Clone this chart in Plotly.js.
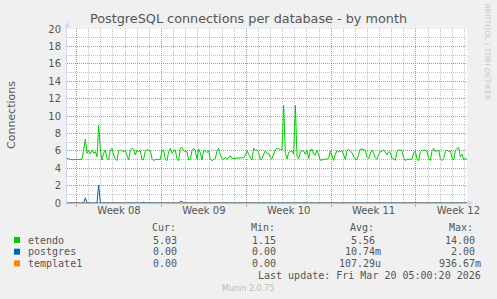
<!DOCTYPE html>
<html><head><meta charset="utf-8">
<script src="https://cdn.plot.ly/plotly-3.0.1.min.js"></script>
<style>html,body{margin:0;padding:0;background:#F0F0F0;}#chart{width:497px;height:299px;}</style>
</head><body><div id="chart"></div>
<script>
// ---- data ----
const seriesStart = '2026-02-15T05:00:20Z';
const seriesEnd = '2026-03-20T05:00:20Z';
const stepSeconds = 11880; // 33 days / 240 samples
const etendo = [5.15,5.05,5.0,4.97,5.0,5.0,5.0,5.0,5.0,5.02,
6.09,7.32,5.71,6.02,5.63,6.09,5.71,5.90,5.33,8.9,
6.09,4.94,5.71,6.09,5.13,4.94,6.09,6.28,5.52,5.02,
4.87,6.02,6.09,6.02,5.90,6.02,5.33,4.94,6.09,6.28,
6.17,5.52,6.09,5.90,6.02,4.94,5.02,6.05,6.09,6.09,
6.0,5.13,4.87,5.02,5.02,5.02,5.02,6.02,6.09,5.02,
4.87,5.90,6.28,5.71,6.02,6.09,5.02,4.87,6.28,6.40,
6.02,5.90,5.90,4.94,5.02,6.02,6.28,6.02,5.02,6.17,
5.79,4.94,6.02,6.02,5.79,6.02,5.02,4.87,5.02,5.13,
6.02,6.28,5.52,5.13,5.02,5.25,5.02,5.2,5.44,5.13,
5.13,5.13,5.13,5.13,5.13,5.13,5.2,5.5,6.0,5.6,
5.2,4.94,6.3,6.05,6.1,5.8,5.0,5.1,5.6,6.0,
5.7,5.7,5.2,5.1,5.6,6.15,6.25,6.25,6.15,6.09,
11.2,5.71,5.06,5.8,5.9,6.0,5.6,11.2,5.4,5.06,
5.9,6.0,6.0,5.6,6.05,5.06,6.09,6.2,5.6,5.5,
6.05,5.6,4.9,5.0,5.02,5.02,5.02,5.1,6.0,5.5,
4.9,5.6,6.05,5.9,5.9,6.05,5.6,5.0,6.0,6.2,
5.9,5.8,5.3,5.05,5.02,5.6,6.2,6.2,6.1,6.05,
5.3,5.1,5.7,6.09,5.7,5.2,5.02,5.6,5.9,5.95,
6.09,5.8,5.55,5.9,5.8,5.1,5.1,4.9,5.9,6.09,
6.09,6.02,5.2,4.87,5.02,5.02,5.02,5.02,5.8,5.95,
5.02,4.87,5.9,6.09,6.02,6.05,5.95,5.1,4.87,6.0,
6.28,5.9,6.0,6.09,5.1,4.87,5.1,5.9,6.09,5.9,
6.02,5.2,4.94,6.0,6.28,6.40,5.3,5.6,5.0,5.1,5.03];
// postgres: zero except these samples
const postgresIdx = [11, 19, 46, 68, 69];
const postgresVal = [0.6, 2.07, 0.1, 0.2, 0.15];
// template1: zero over the whole month at this resolution
const template1Idx = [];
const template1Val = [];
const weekStarts = ['2026-02-16','2026-02-23','2026-03-02','2026-03-09','2026-03-16'];
const weekLabels = ['Week 08','Week 09','Week 10','Week 11','Week 12'];
const legendNames = ['etendo','postgres','template1'];
const legendColors = ['#00CC00','#0066B3','#FF8000'];
const curVals = ['5.03\u00a0','0.00\u00a0','0.00\u00a0'];
const minVals = ['1.15\u00a0','0.00\u00a0','0.00\u00a0'];
const avgVals = ['5.56\u00a0','10.74m','107.29u'];
const maxVals = ['14.00\u00a0','2.00\u00a0','936.67m'];
const lastUpdate = 'Last update: Fri Mar 20 05:00:20 2026';

// ---- build ----
const t0 = new Date(seriesStart).getTime();
const fmt = ms => new Date(ms).toISOString().slice(0,19).replace('T',' ');
const times = etendo.map((_, k) => fmt(t0 + k*stepSeconds*1000));
function sparse(idx, val){ const a = etendo.map(()=>0); idx.forEach((i,j)=>{a[i]=val[j];}); return a; }
const postgres = sparse(postgresIdx, postgresVal);
const template1 = sparse(template1Idx, template1Val);
const range = [fmt(t0), fmt(new Date(seriesEnd).getTime())];
const weekMid = weekStarts.map(d => fmt(new Date(d+'T00:00:00Z').getTime() + 3.5*86400000));

const L=67, R=30, T=29, B=96, W=497, H=299;
const pw = W-L-R, ph = H-T-B;
const px = x => (x-L)/pw;
const py = y => (H-B-y)/ph;

const fontC = '#555555';
const mono = {family:'DejaVu Sans Mono', size:10, color:fontC};
const ann = [];
function txt(x,y,text,anchor,font){ ann.push({xref:'paper',yref:'paper',x:px(x),y:py(y),text:text,showarrow:false,xanchor:anchor,yanchor:'middle',font:font||mono}); }

txt(149.7,227.5,'Cur:','left'); txt(249,227.5,'Min:','left'); txt(347.7,227.5,'Avg:','left'); txt(446.7,227.5,'Max:','left');
const rowY = [240,251.7,263.4];
const shapes = [];
legendNames.forEach((n,i)=>{
  shapes.push({type:'rect',xref:'paper',yref:'paper',x0:px(14),x1:px(20),y0:py(rowY[i]-3),y1:py(rowY[i]+3),fillcolor:legendColors[i],line:{width:0}});
  txt(26,rowY[i],n,'left');
  txt(185,rowY[i],curVals[i],'right');
  txt(284.3,rowY[i],minVals[i],'right');
  txt(383.3,rowY[i],avgVals[i],'right');
  txt(482.7,rowY[i],maxVals[i],'right');
});
txt(482.7,275.2,lastUpdate,'right');
txt(247.5,288.5,'Munin 2.0.75','center',{family:'DejaVu Sans',size:8,color:'#BBBBBB'});
ann.push({xref:'paper',yref:'paper',x:px(487.5),y:py(52),text:'RRDTOOL / TOBI OETIKER',showarrow:false,textangle:90,xanchor:'center',yanchor:'middle',font:{family:'DejaVu Sans',size:7.5,color:'#C8C8C8'}});
ann.push({xref:'paper',yref:'paper',x:px(12),y:py(115),text:'Connections',showarrow:false,textangle:-90,xanchor:'center',yanchor:'middle',font:{family:'DejaVu Sans',size:11,color:fontC}});

const axisC = '#CFD6F8';
shapes.push({type:'path',xref:'paper',yref:'paper',path:`M ${px(64.5)} ${py(27.5)} L ${px(69.5)} ${py(27.5)} L ${px(67)} ${py(21.5)} Z`,fillcolor:axisC,line:{width:0}});
shapes.push({type:'path',xref:'paper',yref:'paper',path:`M ${px(467.5)} ${py(200)} L ${px(467.5)} ${py(206)} L ${px(473.5)} ${py(203)} Z`,fillcolor:axisC,line:{width:0}});

const traces = [
  {x:times,y:etendo,type:'scatter',mode:'lines',line:{color:'#00CC00',width:1},xaxis:'x',yaxis:'y'},
  {x:times,y:postgres,type:'scatter',mode:'lines',line:{color:'#0066B3',width:1},xaxis:'x3',yaxis:'y'},
  {x:times,y:template1,type:'scatter',mode:'lines',line:{color:'#FF8000',width:1},xaxis:'x2',yaxis:'y2'}
];
const greyC = 'rgba(143,143,143,0.55)', redC = 'rgba(222,79,79,0.5)', dash = '1px,1px';
const layout = {
  width:W,height:H,margin:{l:L,r:R,t:T,b:B,pad:0},
  paper_bgcolor:'#F0F0F0',plot_bgcolor:'#FFFFFF',showlegend:false,
  title:{text:'PostgreSQL connections per database - by month',font:{family:'DejaVu Sans',size:12.8,color:fontC},x:0.5,xref:'container',xanchor:'center',y:1-19/H,yanchor:'middle'},
  // daily grey grid
  xaxis:{type:'date',range:range,tickmode:'linear',tick0:'2026-02-16',dtick:86400000,showticklabels:false,ticks:'',
    showgrid:true,gridcolor:greyC,griddash:dash,gridwidth:1,showline:true,linecolor:'#F4A882',linewidth:1,zeroline:false},
  // weekly red grid + ticks
  xaxis2:{type:'date',range:range,overlaying:'x',side:'bottom',tickmode:'array',tickvals:weekStarts,showticklabels:false,
    showgrid:true,gridcolor:redC,griddash:dash,gridwidth:1,ticks:'outside',ticklen:3,tickcolor:redC,zeroline:false,showline:false},
  // week labels
  xaxis3:{type:'date',range:range,overlaying:'x',side:'bottom',tickmode:'array',tickvals:weekMid,ticktext:weekLabels,
    showgrid:false,ticks:'',zeroline:false,showline:false,tickfont:{family:'DejaVu Sans',size:10,color:fontC}},
  yaxis:{range:[0,20],tickmode:'linear',tick0:0,dtick:1,showticklabels:false,ticks:'',showgrid:true,gridcolor:greyC,griddash:dash,gridwidth:1,
    zeroline:false,showline:true,linecolor:axisC,linewidth:1},
  yaxis2:{range:[0,20],overlaying:'y',side:'left',tickmode:'linear',tick0:0,dtick:2,showgrid:true,gridcolor:redC,griddash:dash,gridwidth:1,
    zeroline:false,showline:false,ticks:'',ticklabelstandoff:5,tickfont:{family:'DejaVu Sans',size:10,color:fontC}},
  shapes:shapes,annotations:ann
};
Plotly.newPlot('chart',traces,layout,{staticPlot:true,displayModeBar:false});
</script></body></html>
